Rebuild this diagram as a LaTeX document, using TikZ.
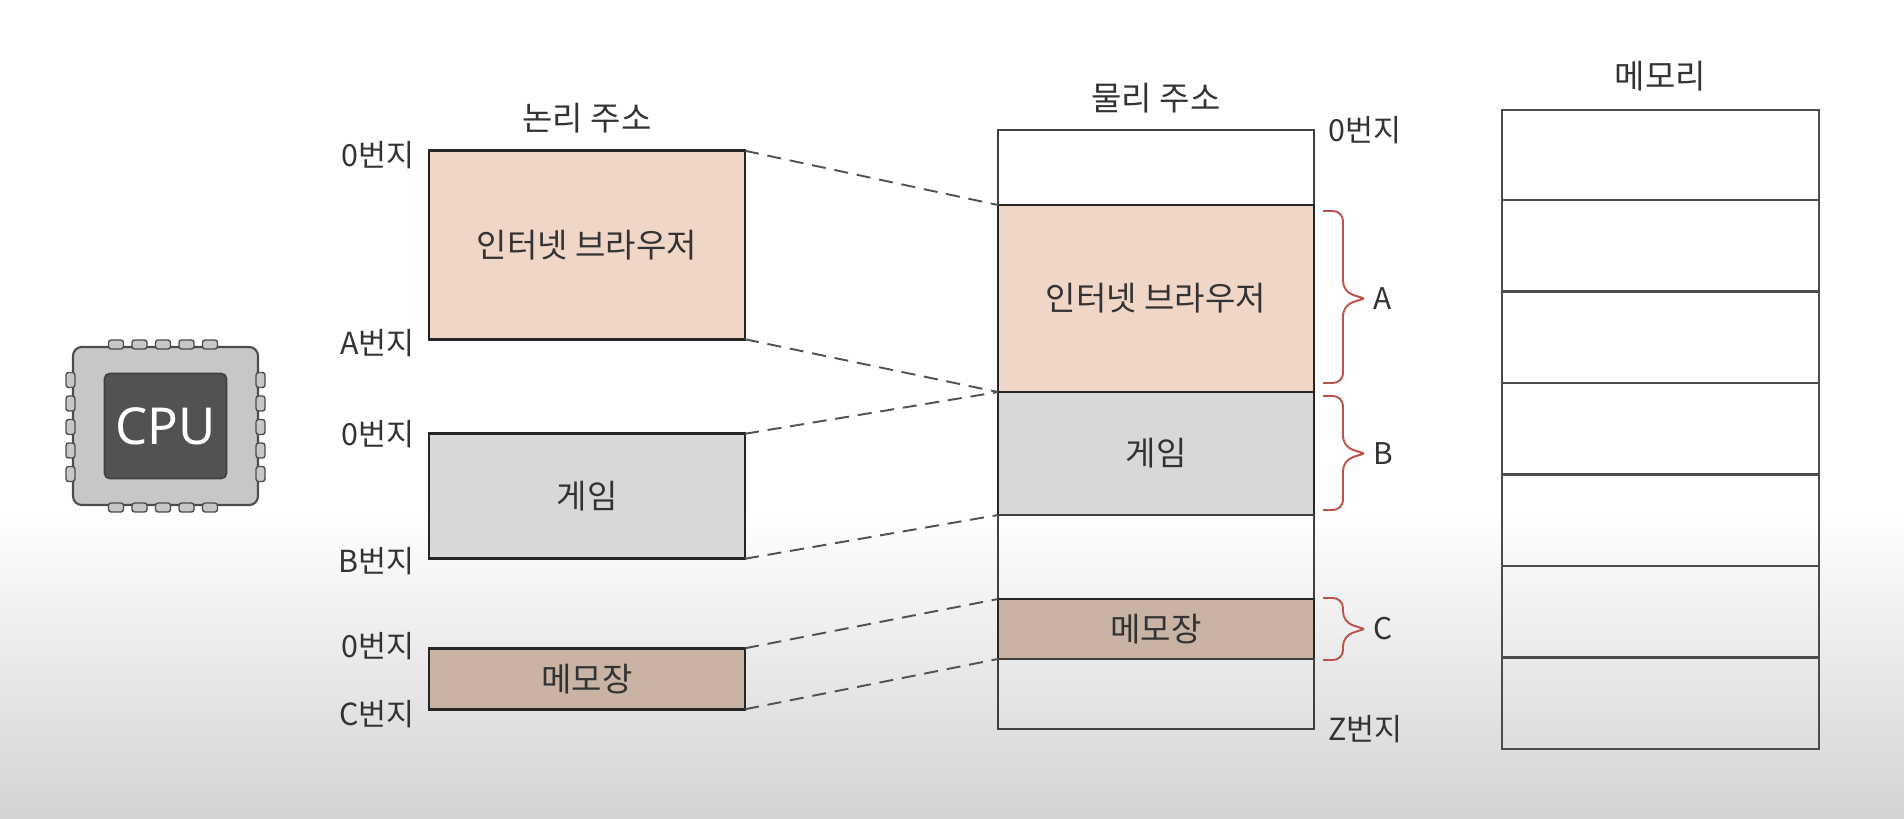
\documentclass[tikz,border=0pt]{standalone}
\usepackage{fontspec}
\setmainfont{Noto Sans CJK KR}
\newfontfamily\latinfont{Noto Sans}
\usepackage{xcolor}
\usepackage{tikz}
\usetikzlibrary{positioning,calc}

\definecolor{browsercol}{HTML}{F0D6C7}
\definecolor{gamecol}{HTML}{D8D8D8}
\definecolor{memocol}{HTML}{C9B3A5}
\definecolor{bracecol}{HTML}{B9534C}

\begin{document}
\begin{tikzpicture}[
    box/.style={draw=black!85, line width=1.6pt, inner sep=0pt, outer sep=0pt, minimum width=6.32cm, align=center, font=\fontsize{18.8}{20}\selectfont, text=black!80},
    browser/.style={box, fill=browsercol},
    game/.style={box, fill=gamecol},
    memo/.style={box, fill=memocol},
    blank/.style={draw=black!75, line width=1.1pt, inner sep=0pt, outer sep=0pt, minimum width=6.32cm},
    cell/.style={draw=black!70, line width=1.2pt, inner sep=0pt, outer sep=0pt, minimum width=6.34cm, minimum height=1.83cm},
    addr/.style={font=\fontsize{17.3}{19}\selectfont, text=black!80, inner sep=0pt},
    title/.style={font=\fontsize{18.8}{20}\selectfont, text=black!80, inner sep=0pt},
    mapline/.style={dash pattern=on 8pt off 5pt, line width=1.1pt, black!68},
    curly/.style={bracecol, line width=1.1pt, rounded corners=0.2cm},
    tag/.style={font=\fontsize{17}{19}\selectfont, text=black!80, inner sep=0pt},
    chipbody/.style={draw=black!70, fill=black!22, line width=1.2pt, rounded corners=5pt, inner sep=0pt, outer sep=0pt, minimum width=3.7cm, minimum height=3.16cm},
    chipcore/.style={draw=black!75, fill=black!68, line width=1pt, rounded corners=3pt, inner sep=0pt, outer sep=0pt, minimum width=2.44cm, minimum height=2.1cm, text=white, font=\latinfont\fontsize{29}{31}\selectfont},
    legh/.style={draw=black!70, fill=black!22, line width=0.8pt, rounded corners=1.5pt, inner sep=0pt, outer sep=0pt, minimum width=0.3cm, minimum height=0.18cm},
    legv/.style={draw=black!70, fill=black!22, line width=0.8pt, rounded corners=1.5pt, inner sep=0pt, outer sep=0pt, minimum width=0.18cm, minimum height=0.3cm},
]

% Page and fading floor
\useasboundingbox (0,0) rectangle (38.08,-16.36);
\fill[white] (0,0) rectangle (38.08,-16.36);
\shade[top color=white, bottom color=black!17] (0,-10.2) rectangle (38.08,-16.36);

% CPU
\node[chipbody] (chip) at (3.31,-8.52) {};
\node[chipcore] (core) at (chip.center) {CPU};

\node[legh, above=-0.04cm of chip.north west, xshift=0.86cm] (top1) {};
\node[legh, right=0.17cm of top1] (top2) {};
\node[legh, right=0.17cm of top2] (top3) {};
\node[legh, right=0.17cm of top3] (top4) {};
\node[legh, right=0.17cm of top4] (top5) {};
\node[legh, below=-0.04cm of chip.south west, xshift=0.86cm] (bot1) {};
\node[legh, right=0.17cm of bot1] (bot2) {};
\node[legh, right=0.17cm of bot2] (bot3) {};
\node[legh, right=0.17cm of bot3] (bot4) {};
\node[legh, right=0.17cm of bot4] (bot5) {};
\node[legv, left=-0.04cm of chip.north west, yshift=-0.66cm] (lft1) {};
\node[legv, below=0.17cm of lft1] (lft2) {};
\node[legv, below=0.17cm of lft2] (lft3) {};
\node[legv, below=0.17cm of lft3] (lft4) {};
\node[legv, below=0.17cm of lft4] (lft5) {};
\node[legv, right=-0.04cm of chip.north east, yshift=-0.66cm] (rgt1) {};
\node[legv, below=0.17cm of rgt1] (rgt2) {};
\node[legv, below=0.17cm of rgt2] (rgt3) {};
\node[legv, below=0.17cm of rgt3] (rgt4) {};
\node[legv, below=0.17cm of rgt4] (rgt5) {};

% Logical addresses
\node[browser, minimum height=3.77cm] (l_browser) at (11.74,-4.9) {인터넷 브라우저};
\node[game, minimum height=2.5cm, below=1.89cm of l_browser] (l_game) {게임};
\node[memo, minimum height=1.22cm, below=1.79cm of l_game] (l_memo) {메모장};
\node[title, above=0.35cm of l_browser] (l_title) {논리 주소};

\node[addr, left=0.28cm of l_browser.north west, yshift=-0.08cm] (l_a0) {0번지};
\node[addr, left=0.28cm of l_browser.south west, yshift=-0.07cm] (l_a1) {A번지};
\node[addr, left=0.28cm of l_game.north west] (l_b0) {0번지};
\node[addr, left=0.28cm of l_game.south west, yshift=-0.05cm] (l_b1) {B번지};
\node[addr, left=0.28cm of l_memo.north west, yshift=0.04cm] (l_c0) {0번지};
\node[addr, left=0.28cm of l_memo.south west, yshift=-0.1cm] (l_c1) {C번지};

% Physical addresses
\node[blank, minimum height=1.5cm] (p_top) at (23.12,-3.35) {};
\node[browser, minimum height=3.74cm, below=0pt of p_top] (p_browser) {인터넷 브라우저};
\node[game, minimum height=2.46cm, below=0pt of p_browser] (p_game) {게임};
\node[blank, minimum height=1.68cm, below=0pt of p_game] (p_gap) {};
\node[memo, minimum height=1.2cm, below=0pt of p_gap] (p_memo) {메모장};
\node[blank, minimum height=1.4cm, below=0pt of p_memo] (p_end) {};
\node[title, above=0.33cm of p_top] (p_title) {물리 주소};

\node[addr, right=0.28cm of p_top.north east] (p_a0) {0번지};
\node[addr, right=0.28cm of p_end.south east] (p_z) {Z번지};

% Memory
\node[cell, minimum height=1.8cm] (m1) at (33.21,-3.1) {};
\node[cell, below=0pt of m1] (m2) {};
\node[cell, below=0pt of m2] (m3) {};
\node[cell, below=0pt of m3] (m4) {};
\node[cell, below=0pt of m4] (m5) {};
\node[cell, below=0pt of m5] (m6) {};
\node[cell, below=0pt of m6] (m7) {};
\node[title, above=0.37cm of m1] (m_title) {메모리};

% Mapping lines
\draw[mapline] (l_browser.north east) -- (p_browser.north west);
\draw[mapline] (l_browser.south east) -- (p_browser.south west);
\draw[mapline] (l_game.north east) -- (p_game.north west);
\draw[mapline] (l_game.south east) -- (p_game.south west);
\draw[mapline] (l_memo.north east) -- (p_memo.north west);
\draw[mapline] (l_memo.south east) -- (p_memo.south west);

% Red braces
\coordinate[right=1cm of p_browser.east] (tip_a);
\coordinate[right=1cm of p_game.east] (tip_b);
\coordinate[right=1cm of p_memo.east] (tip_c);
\node[tag, right=0.18cm of tip_a] (t_a) {A};
\node[tag, right=0.18cm of tip_b] (t_b) {B};
\node[tag, right=0.18cm of tip_c] (t_c) {C};

\draw[curly] ($(p_browser.north east)+(0.18,-0.12)$) -| ($(tip_a)+(-0.42,0.14)$) -- (tip_a) (tip_a) -- ($(tip_a)+(-0.42,-0.14)$) |- ($(p_browser.south east)+(0.18,0.18)$);
\draw[curly] ($(p_game.north east)+(0.18,-0.08)$) -| ($(tip_b)+(-0.42,0.14)$) -- (tip_b) (tip_b) -- ($(tip_b)+(-0.42,-0.14)$) |- ($(p_game.south east)+(0.18,0.1)$);
\draw[curly] ($(p_memo.north east)+(0.18,0.02)$) -| ($(tip_c)+(-0.42,0.14)$) -- (tip_c) (tip_c) -- ($(tip_c)+(-0.42,-0.14)$) |- ($(p_memo.south east)+(0.18,-0.02)$);

\end{tikzpicture}
\end{document}
